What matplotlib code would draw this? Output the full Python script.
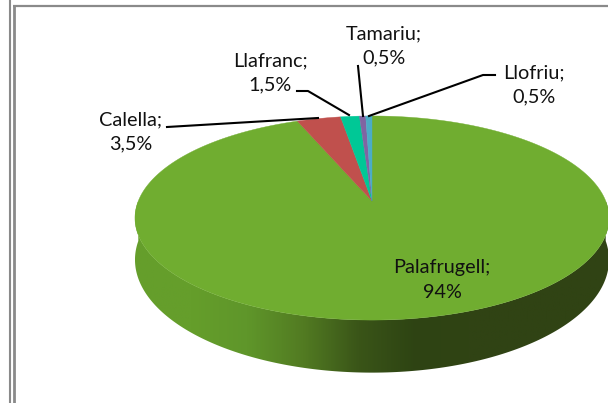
import numpy as np
import matplotlib
matplotlib.use("Agg")
import matplotlib.pyplot as plt
from matplotlib.patches import Polygon
from matplotlib.colors import LinearSegmentedColormap

# Data
labels = ["Palafrugell", "Calella", "Llafranc", "Tamariu", "Llofriu"]
values = [94, 3.5, 1.5, 0.5, 0.5]
value_text = ["94%", "3,5%", "1,5%", "0,5%", "0,5%"]
colors = ["#70AD30", "#C0504D", "#00C896", "#8064A2", "#4BACC6"]

# pie geometry in pixels, simple perspective
cx, cy = 372, 201
a, b, k = 233.7, 99.2, 0.1667
depth = 40


def project(theta):
    # theta clockwise from 12 o'clock
    u, v = np.sin(theta), np.cos(theta)
    w = 1 + k * v
    return cx + a * u / w, cy - b * v / w, w


fig = plt.figure(figsize=(6.08, 4.03), dpi=100)
ax = fig.add_axes([0, 0, 1, 1])
ax.axis("off")

# frame of the pasted picture
ax.plot([10, 10], [403, 0], color="#8a8a8a", lw=1.5, solid_capstyle="butt")
ax.plot([13.5, 13.5], [403, 5], color="#8a8a8a", lw=2, solid_capstyle="butt")
ax.plot([12.5, 608], [6, 6], color="#8a8a8a", lw=1.6, solid_capstyle="butt")

# side wall, shaded along x and clipped to the rim
side_cmap = LinearSegmentedColormap.from_list(
    "side", ["#659E2B", "#5F962A", "#527B22", "#3A5518", "#2E4413", "#304314"])
t = np.radians(np.linspace(90, 270, 200))
x, y, w = project(t)
yb = y + depth / w ** 1.5
rim = Polygon(np.c_[np.r_[x, x[::-1]], np.r_[y, yb[::-1]]], closed=True,
              facecolor="none", edgecolor="none", transform=ax.transData)
ax.add_patch(rim)
shade = np.clip(np.linspace(0, 1, 400) * 1.7 - 0.2, 0, 1)[np.newaxis, :]
side = ax.imshow(shade, cmap=side_cmap, vmin=0, vmax=1, aspect="auto",
                 extent=[x.min(), x.max(), yb.max() + 2, y.min() - 2])
side.set_clip_path(rim)
ax.set_xlim(0, 608)
ax.set_ylim(403, 0)

# top face
start = 0.0
for val, col in zip(values, colors):
    t = np.radians(np.linspace(start, start + val * 3.6, max(int(val * 6), 4)))
    x, y, w = project(t)
    ax.fill(np.r_[cx, x], np.r_[cy, y], color=col, lw=0.3, zorder=3)
    start += val * 3.6

# leader lines
leaders = [
    ([167, 318], [127, 118]),
    ([297, 308, 349], [91, 91, 115]),
    ([358, 363], [66, 116]),
    ([369, 483, 495], [116, 75, 75]),
]
for lx, ly in leaders:
    ax.plot(lx, ly, color="black", lw=1.5, zorder=4)

# data labels
label_pos = [(442, 280), (131, 132), (270, 73), (384, 46), (534, 85)]
for name, txt, (px, py) in zip(labels, value_text, label_pos):
    ax.text(px, py, name + ";\n" + txt, ha="center", va="center", fontsize=14.3,
            family="Lato", color="#111111", zorder=5, linespacing=1.5)

fig.savefig("out.png", dpi=100)
